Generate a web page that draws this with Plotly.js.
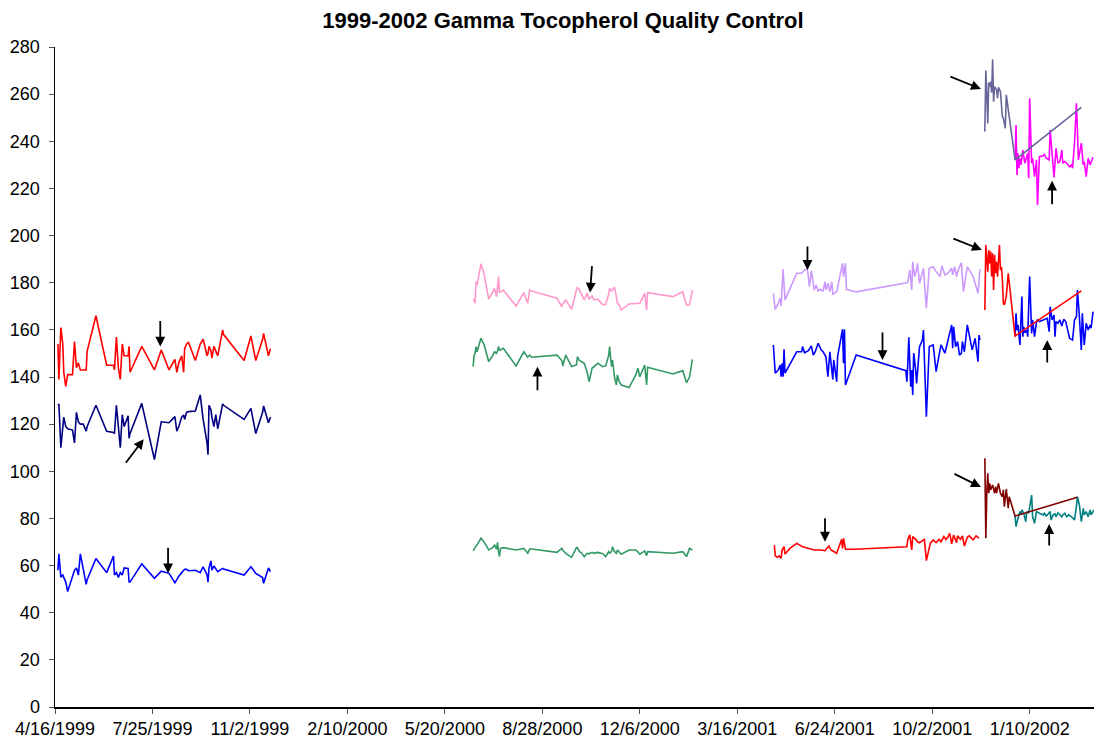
<!DOCTYPE html>
<html>
<head>
<meta charset="utf-8">
<script src="https://cdn.plot.ly/plotly-3.0.1.min.js"></script>
<style>html,body{margin:0;padding:0;background:#fff;}#chart{width:1094px;height:738px;}</style>
</head>
<body>
<div id="chart"></div>
<script>
// ---------- 1999 group (shared run dates) ----------
const g1Dates = ['1999-04-19','1999-04-20','1999-04-22','1999-04-24','1999-04-25','1999-04-27','1999-04-29','1999-05-04','1999-05-06','1999-05-08',
'1999-05-10','1999-05-12','1999-05-15','1999-05-18','1999-05-19','1999-05-28','1999-06-08','1999-06-15','1999-06-16','1999-06-18',
'1999-06-20','1999-06-22','1999-06-24','1999-06-26','1999-06-30','1999-07-01','1999-07-02','1999-07-14','1999-07-27','1999-08-03',
'1999-08-11','1999-08-17','1999-08-19','1999-08-21','1999-08-24','1999-08-26','1999-08-27','1999-08-29','1999-08-31','1999-09-07',
'1999-09-12','1999-09-15','1999-09-19','1999-09-20','1999-09-21','1999-09-23','1999-09-24','1999-09-26','1999-09-28','1999-09-30',
'1999-10-05','1999-10-06','1999-10-27','1999-11-03','1999-11-08','1999-11-15','1999-11-16','1999-11-21','1999-11-23'];
const g1Red = [154,139,161,154,142,136,141,141,155,144,146,143,143,143,151,166,145,145,143,157,144,139,154,149,149,153,142,153,143,151.5,
143,147.5,142,146,149,142,152,154,154.6,147,154,156,149,150,153,151,148,153,151,149,160,158,147,157.4,147,156,158.5,149,152];
const g1Navy = [128,128.5,110,118,123,119,118,117.5,112,125,121,120,120,117,119,128,117,116.5,116,128,120,110,124,119,123.5,114,116,128.8,105,121,
120.6,123.2,117,119,123,123.9,122,125,125.3,125.6,132.4,122,112,107,128,126,123,119,124,118,128.6,128,122,126.7,116,125,127.7,120.6,123];
const g1Blue = [58,65,55,56,55,53,49,56,58,59,56,65,58,52,54,63,57,64,56,57,55,57,56,59,58.8,53,53,60.7,54.6,57.6,
56.7,52.7,54,55.5,57,57.8,58.4,58.4,57.8,58,57,59.5,56,53,59,62,58,59.8,58.4,57.4,58.8,58.5,56,59.5,56.7,54.9,52.5,59,57.4];

// ---------- 2000 group (shared run dates) ----------
const g2Dates = ['2000-06-18','2000-06-19','2000-06-20','2000-06-21','2000-06-22','2000-06-26','2000-06-29','2000-07-04','2000-07-08','2000-07-10',
'2000-07-12','2000-07-13','2000-07-14','2000-07-15','2000-07-16','2000-07-19','2000-08-01','2000-08-09','2000-08-13','2000-08-15',
'2000-08-17','2000-09-12','2000-09-17','2000-09-18','2000-09-21','2000-09-27','2000-10-02','2000-10-03','2000-10-05','2000-10-07',
'2000-10-10','2000-10-13','2000-10-15','2000-10-18','2000-10-20','2000-10-24','2000-10-29','2000-11-01','2000-11-04','2000-11-05',
'2000-11-07','2000-11-08','2000-11-10','2000-11-12','2000-11-13','2000-11-15','2000-11-17','2000-11-25','2000-12-02','2000-12-04',
'2000-12-06','2000-12-11','2000-12-13','2000-12-14','2001-01-09','2001-01-19','2001-01-23','2001-01-26','2001-01-29'];
const g2Pink = [173,172.7,171.3,180.5,179,188,184,173,176,177.6,174.1,179,182.6,175.8,176,176.9,170.1,175.8,171.3,176.9,
176.5,173.4,169.8,171,172.7,168.7,177,178.1,177,175.5,172.7,175.5,173,174.4,172.7,173,170.6,170.8,175,177.6,
176.5,177,178.1,174,171.3,170.6,168.4,171,171.2,171.3,171.3,175.5,168.4,175.8,174.1,176.2,170.5,170.6,176.9];
const g2Green = [144.4,149.3,150,152.9,150.7,156.4,154,146.5,149,150.7,150.1,151,152.9,151.5,151.5,152.2,144.7,150.7,148.4,149.3,
148.4,149.3,147,144.7,149.3,144.4,145.1,148.6,147,146.5,145.8,142,138,143.7,144.5,145.8,144.4,144.7,149,152.9,
144.4,147.2,140,136.6,140.9,138,136.6,135.5,141,143.7,140.1,145.1,136.6,144.1,141.3,142.7,137.6,140,147.5];
const g2GreenLow = [66.2,67,68,68.4,68.7,71.6,70.1,66.6,67.6,68.7,67,69.9,66,63.8,67.3,67.6,66.6,67.3,65.2,67,
67,65.6,67.3,66.5,65.2,63.5,67.6,67.6,65.9,65.5,63.8,65.2,65,65.6,65.2,65.6,65,63.8,65.9,65.2,
66,68,66,65.2,66.6,65.5,64.8,66.6,66.6,65.8,64.8,66.2,64.2,65.9,65.2,65.9,63.8,67.3,66.6];

// ---------- 2001 group ----------
const g3LavDates = ['2001-04-22','2001-04-24','2001-04-27','2001-04-29','2001-04-30','2001-05-02','2001-05-04','2001-05-16','2001-05-21','2001-05-24',
'2001-05-27','2001-05-29','2001-05-31','2001-06-03','2001-06-05','2001-06-07','2001-06-09','2001-06-12','2001-06-14','2001-06-15',
'2001-06-17','2001-06-19','2001-06-21','2001-06-22','2001-06-26','2001-07-02','2001-07-03','2001-07-05','2001-07-06','2001-07-16',
'2001-09-06','2001-09-07','2001-09-09','2001-09-11','2001-09-12','2001-09-14','2001-09-16','2001-09-17','2001-09-19','2001-09-23',
'2001-09-26','2001-09-29','2001-10-03','2001-10-06','2001-10-10','2001-10-12','2001-10-15','2001-10-18','2001-10-22','2001-10-23',
'2001-10-25','2001-10-27','2001-10-28','2001-11-01','2001-11-03','2001-11-07','2001-11-13','2001-11-18','2001-11-20'];
const g3Lav = [175.5,168.7,171.3,173.4,170.1,185.7,172.7,184,184,185.4,185.7,178.3,185.1,176.9,179,176.5,177.2,176.5,180.4,176.9,
179.8,176.2,180.4,175.2,176.2,188.2,182.6,188.2,177.2,176.1,180,180.4,185.4,176.9,188.9,182.6,185.7,188.2,179.8,186.1,
169.2,186.1,186.8,184.7,182.6,187.1,183.3,184,186.1,183.3,186.8,182.6,184.7,188.5,176.2,186.8,182.6,175.5,185.7];

const g3BlueDates = ['2001-04-22','2001-04-23','2001-04-24','2001-04-27','2001-04-29','2001-04-30','2001-05-01','2001-05-02','2001-05-03','2001-05-04',
'2001-05-16','2001-05-21','2001-05-22','2001-05-24','2001-05-28','2001-05-31','2001-06-02','2001-06-04','2001-06-07','2001-06-10',
'2001-06-12','2001-06-15','2001-06-17','2001-06-19','2001-06-22','2001-06-23','2001-06-26','2001-06-27','2001-07-02','2001-07-03',
'2001-07-04','2001-07-05','2001-07-16','2001-09-05','2001-09-06','2001-09-07','2001-09-08','2001-09-10','2001-09-11','2001-09-12',
'2001-09-13','2001-09-15','2001-09-16','2001-09-19','2001-09-22','2001-09-23','2001-09-26','2001-09-29','2001-10-03','2001-10-06',
'2001-10-10','2001-10-11','2001-10-15','2001-10-18','2001-10-22','2001-10-23','2001-10-24','2001-10-26','2001-10-28','2001-10-30',
'2001-11-01','2001-11-02','2001-11-04','2001-11-07','2001-11-12','2001-11-15','2001-11-18','2001-11-19','2001-11-20'];
const g3Blue = [153.6,148.6,141.6,143,145.1,140.1,145.8,140.1,151.8,141.6,
150.7,150.7,152.9,150.3,151.2,153.2,149.3,150.7,154.3,151.5,
150.7,148.6,140.1,150.7,139,147.2,138,148.9,160.2,145.8,
160.2,136.6,149.3,142.7,138,145.8,156.8,135.9,143,132.4,
150.1,143,137.3,152.9,155.7,159.9,123.2,152.9,153.6,142.3,
152.9,153.6,150.1,155.7,162.1,152.2,161.3,152.9,155,149.3,
150.1,155,150.7,162.1,151.5,156.4,146.5,157.8,155.7];

const g3RedDates = ['2001-04-23','2001-04-24','2001-04-26','2001-04-28','2001-04-30','2001-05-01','2001-05-03','2001-05-04','2001-05-09','2001-05-16',
'2001-05-22','2001-05-29','2001-06-03','2001-06-10','2001-06-14','2001-06-18','2001-06-20','2001-06-22','2001-06-26','2001-07-01',
'2001-07-02','2001-07-03','2001-07-05','2001-07-14','2001-09-06','2001-09-07','2001-09-09','2001-09-11','2001-09-12','2001-09-15',
'2001-09-17','2001-09-19','2001-09-24','2001-09-26','2001-09-28','2001-09-30','2001-10-03','2001-10-06','2001-10-09','2001-10-11',
'2001-10-14','2001-10-16','2001-10-18','2001-10-20','2001-10-22','2001-10-24','2001-10-27','2001-10-28','2001-10-31','2001-11-02',
'2001-11-04','2001-11-07','2001-11-09','2001-11-11','2001-11-13','2001-11-16','2001-11-19'];
const g3Red = [68.7,64.1,63.5,64.1,63.1,66.6,68,64.9,67.3,69.4,
68,67.3,66.6,66.6,66.3,68.3,66.6,66.2,65.2,71.1,
67.3,71.6,66.9,66.9,68,71.1,73,66.6,72.3,71.1,
70.1,69.7,71.1,62.1,66.6,69.4,70.9,69.7,71.1,70.1,
72.3,71.1,72,73.7,69.2,73,69.7,72.6,71.1,72.6,
68.3,72,72.6,71.6,70.9,72.6,71.6];

// ---------- late 2001 / 2002 group ----------
const g4SlateDates = ['2001-11-25','2001-11-26','2001-11-27','2001-11-28','2001-11-29','2001-11-30','2001-12-01','2001-12-02','2001-12-03','2001-12-04',
'2001-12-05','2001-12-07','2001-12-08','2001-12-09','2001-12-11','2001-12-12','2001-12-13','2001-12-14','2001-12-16','2001-12-17',
'2001-12-26','2002-03-04'];
const g4Slate = [244.1,270,260.4,247.6,264.9,263.2,265.3,260.6,274.8,256.8,263.2,261.8,258.3,262.9,261,252.6,250.5,249.8,245.5,259.7,232.1,254.4];

const g4MagDates = ['2001-12-26','2001-12-27','2001-12-28','2001-12-29','2001-12-30','2001-12-31','2002-01-01','2002-01-03','2002-01-05','2002-01-07',
'2002-01-08','2002-01-09','2002-01-10','2002-01-12','2002-01-13','2002-01-15','2002-01-17','2002-01-18','2002-01-20','2002-01-24',
'2002-01-25','2002-01-27','2002-01-30','2002-01-31','2002-02-02','2002-02-04','2002-02-06','2002-02-08','2002-02-10','2002-02-12',
'2002-02-13','2002-02-15','2002-02-17','2002-02-18','2002-02-20','2002-02-22','2002-02-23','2002-02-25','2002-02-27','2002-03-01',
'2002-03-04','2002-03-06','2002-03-07','2002-03-09','2002-03-11','2002-03-13','2002-03-14','2002-03-16'];
const g4Mag = [232.1,246.9,225.7,234.9,228.6,232.8,230,236.3,230.7,233.5,
234.9,224.3,258.3,230.7,232.8,225,232.1,213,233.5,233.8,
234.6,232.8,232.1,244.8,233.5,224.7,237,230.9,231.4,236.3,
230.7,231.4,230.7,230,229.2,230,228.6,239.2,256.1,232.1,
239.2,230,231.4,225,232.8,230,231.4,233.2];

const g4RedDates = ['2001-11-25','2001-11-26','2001-11-28','2001-11-29','2001-11-30','2001-12-01','2001-12-02','2001-12-03','2001-12-04','2001-12-05',
'2001-12-06','2001-12-07','2001-12-08','2001-12-09','2001-12-10','2001-12-11','2001-12-12','2001-12-13','2001-12-14','2001-12-15',
'2001-12-17','2001-12-19','2001-12-20','2001-12-26','2002-03-04'];
const g4Red = [168.4,196,184.7,193.9,188.2,193.2,182.6,192.5,176.9,191.8,184,188.9,182.6,191,196,185.4,186.8,181.2,171.3,170.6,174.1,184,179.8,157.4,176.5];

const g4BlueDates = ['2001-12-26','2001-12-27','2001-12-28','2001-12-29','2001-12-31','2002-01-01','2002-01-02','2002-01-03','2002-01-04','2002-01-05',
'2002-01-07','2002-01-08','2002-01-10','2002-01-12','2002-01-13','2002-01-15','2002-01-17','2002-01-18','2002-01-20','2002-01-22',
'2002-01-24','2002-01-25','2002-01-28','2002-01-30','2002-01-31','2002-02-02','2002-02-04','2002-02-05','2002-02-06','2002-02-08',
'2002-02-10','2002-02-12','2002-02-14','2002-02-16','2002-02-18','2002-02-20','2002-02-23','2002-02-25','2002-02-27','2002-02-28',
'2002-03-02','2002-03-04','2002-03-05','2002-03-07','2002-03-09','2002-03-11','2002-03-13','2002-03-14','2002-03-16'];
const g4Blue = [157.4,167,159.9,162.1,153.6,165.6,174.1,157.1,161.3,158.8,
159.9,157.1,182.6,158.5,164.2,157.1,163.5,164.2,163.5,163.9,
164.2,164.2,164.9,159.2,169.8,164.2,166.3,157.1,163.5,162.8,
164.2,161.6,164.5,163.5,159.9,156.4,155.7,164.2,165.6,176.9,
165.6,151.5,167,153.6,162.8,159.9,162.1,160.7,167.7];

const g4DarkRedDates = ['2001-11-25','2001-11-26','2001-11-27','2001-11-28','2001-11-29','2001-11-30','2001-12-01','2001-12-03','2001-12-05','2001-12-06',
'2001-12-07','2001-12-09','2001-12-11','2001-12-13','2001-12-14','2001-12-15','2001-12-17','2001-12-19','2001-12-20','2001-12-22',
'2001-12-26','2002-02-28'];
const g4DarkRed = [105.5,71.6,90.7,99.1,90.7,94.9,92.1,94.2,90.7,93.5,90.7,94.9,90.7,89.2,92.1,85,92.4,84.3,89.2,86.4,81,89];

const g4TealDates = ['2001-12-26','2001-12-27','2001-12-29','2001-12-31','2002-01-01','2002-01-02','2002-01-04','2002-01-06','2002-01-07','2002-01-09',
'2002-01-12','2002-01-13','2002-01-15','2002-01-17','2002-01-20','2002-01-24','2002-01-25','2002-01-27','2002-01-29','2002-01-31',
'2002-02-01','2002-02-03','2002-02-05','2002-02-06','2002-02-08','2002-02-10','2002-02-12','2002-02-13','2002-02-15','2002-02-17',
'2002-02-19','2002-02-22','2002-02-25','2002-02-27','2002-02-28','2002-03-02','2002-03-04','2002-03-06','2002-03-07','2002-03-09',
'2002-03-11','2002-03-13','2002-03-14','2002-03-17'];
const g4Teal = [81,76.5,80.1,82.9,81.5,83.6,82.2,78.6,82.9,82.2,
89.9,80.7,77.9,82.9,82.2,81.5,82.2,81,81.9,82.9,
79.3,81.5,81.9,80.7,82.4,81.5,80.7,81.5,82.2,80.7,
81.5,80.7,79.3,85.3,89.2,85.7,78.6,84.3,81.5,82.9,
80.7,83.6,81.5,83.6];

// ---------- axis ticks ----------
const xTickVals = ['1999-04-16','1999-07-25','1999-11-02','2000-02-10','2000-05-20','2000-08-28','2000-12-06','2001-03-16','2001-06-24','2001-10-02','2002-01-10'];
const xTickText = ['4/16/1999','7/25/1999','11/2/1999','2/10/2000','5/20/2000','8/28/2000','12/6/2000','3/16/2001','6/24/2001','10/2/2001','1/10/2002'];

// ---------- marker arrows (tip date, tip value, tail offset in px) ----------
const arrowDates = ['1999-08-02','1999-07-16','1999-08-10','2000-10-16','2000-08-23','2001-05-27','2001-08-12','2001-06-14','2001-11-21','2002-02-02','2001-11-22','2002-01-28','2001-11-21','2002-01-30'];
const arrowValues = [152.9,113.6,56.7,175.8,144.4,185.4,147.2,70.1,262.2,223.3,193.9,155.7,93.3,77.6];
const arrowDx = [0,-19,0,2,0,0,0,0,-32,0,-30,0,-28,0];
const arrowDy = [-27,25,-27,-28,25,-25,-29,-25,-13,25,-12,24,-14,23];

function line(x, y, color, w) {
  return {x: x, y: y, type: 'scatter', mode: 'lines', line: {color: color, width: w || 1.6}, hoverinfo: 'x+y', showlegend: false};
}

const traces = [
  line(g1Dates, g1Red, '#FF0000'),
  line(g1Dates, g1Navy, '#000080'),
  line(g1Dates, g1Blue, '#0000FF'),
  line(g2Dates, g2Pink, '#FF99CC'),
  line(g2Dates, g2Green, '#339966'),
  line(g2Dates, g2GreenLow, '#339966'),
  line(g3LavDates, g3Lav, '#CC99FF'),
  line(g3BlueDates, g3Blue, '#0000FF'),
  line(g3RedDates, g3Red, '#FF0000'),
  line(g4MagDates, g4Mag, '#FF00FF'),
  line(g4SlateDates, g4Slate, '#666699'),
  line(g4BlueDates, g4Blue, '#0000FF'),
  line(g4RedDates, g4Red, '#FF0000'),
  line(g4TealDates, g4Teal, '#008080'),
  line(g4DarkRedDates, g4DarkRed, '#800000')
];

const annotations = arrowDates.map((d, i) => ({
  x: d, y: arrowValues[i], xref: 'x', yref: 'y', text: '',
  showarrow: true, arrowhead: 2, arrowsize: 1.1, arrowwidth: 1.8, arrowcolor: '#000',
  ax: arrowDx[i], ay: arrowDy[i], standoff: 0
}));

const tickFont = {family: 'Arial, "Liberation Sans", sans-serif', size: 18, color: '#000'};

const layout = {
  width: 1094, height: 738,
  margin: {l: 55, r: 0, t: 47, b: 31, pad: 0},
  paper_bgcolor: '#fff', plot_bgcolor: '#fff',
  showlegend: false,
  title: {
    text: '1999-2002 Gamma Tocopherol Quality Control',
    font: {family: 'Arial, "Liberation Sans", sans-serif', size: 22, color: '#000', weight: 'bold'},
    xref: 'container', x: 0.5146, xanchor: 'center',
    yref: 'container', y: 0.972, yanchor: 'middle'
  },
  xaxis: {
    type: 'date', range: ['1999-04-16', '2002-03-17'],
    tickmode: 'array', tickvals: xTickVals, ticktext: xTickText,
    ticks: 'outside', ticklen: 5, tickwidth: 1, tickcolor: '#555',
    showline: true, linecolor: '#000', linewidth: 1.5,
    showgrid: false, zeroline: false, tickfont: tickFont
  },
  yaxis: {
    range: [0, 280], tick0: 0, dtick: 20,
    ticks: 'outside', ticklen: 5, tickwidth: 1, tickcolor: '#555',
    showline: true, linecolor: '#000', linewidth: 1.5,
    showgrid: false, zeroline: false, tickfont: tickFont,
    ticklabelstandoff: 5
  },
  annotations: annotations
};

Plotly.newPlot('chart', traces, layout, {displayModeBar: false, staticPlot: true});
</script>
</body>
</html>
